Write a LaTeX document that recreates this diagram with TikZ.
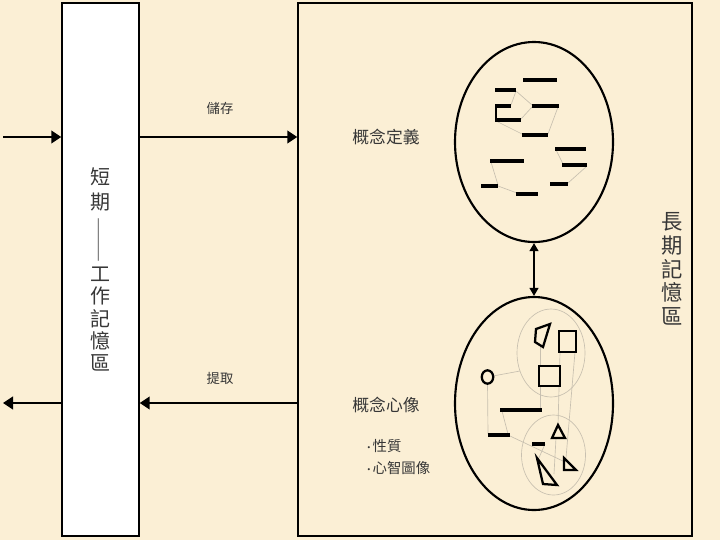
\documentclass[tikz,border=0pt]{standalone}
\usepackage{fontspec}
\usepackage{graphicx}
\newfontfamily\cjk{Noto Sans CJK TC}
\usetikzlibrary{shapes.geometric,arrows.meta}
\definecolor{bg}{RGB}{251,239,213}
\definecolor{txt}{RGB}{55,55,55}
\definecolor{thinc}{RGB}{200,192,176}
\definecolor{dashc}{RGB}{130,130,130}
\newcommand{\bul}{\makebox[5.5pt][c]{\scalebox{0.7}{•}}}
\begin{document}
\begin{tikzpicture}[x=0.75pt,y=-0.75pt,
  box/.style={draw=black, line width=1.1pt, inner sep=0pt},
  arr/.style={line width=1.6pt, -{Triangle[length=7.5pt,width=9.5pt]}},
  darr/.style={line width=1.5pt, {Triangle[length=6pt,width=6.5pt]}-{Triangle[length=6pt,width=6.5pt]}},
  oval/.style={ellipse, draw=black, line width=1.6pt, inner sep=0pt},
  bar/.style={line width=2.3pt},
  shp/.style={line width=1.7pt, line join=miter},
  link/.style={draw=thinc, line width=0.5pt},
  lbl/.style={font=\cjk\fontsize{10}{12}\selectfont, text=txt},
]
\fill[bg] (0,0) rectangle (720,540);
\useasboundingbox (0,0) rectangle (720,540);

% boxes
\node[box, fill=white, minimum width=57.75pt, minimum height=399.75pt,
      align=center, text=txt, font=\cjk\fontsize{15}{16.7}\selectfont]
  (stm) at (100.5,269.5)
  {短\\[2pt]期\\[3.5pt]\hspace{1pt}\textcolor{dashc}{\rotatebox{90}{\resizebox{33.75pt}{\height}{——}}}\\[-2pt]工\\作\\記\\憶\\區};
\node[box, minimum width=295.5pt, minimum height=399.75pt] (ltm) at (495,269.5) {};
\node[align=center, text=txt, font=\cjk\fontsize{16}{17.8}\selectfont]
  (ltmlbl) at (672,269) {長\\期\\記\\憶\\區};

% arrows
\coordinate (src) at (3,137);
\coordinate (dst) at (3,403);
\draw[arr] (src) -- (src -| stm.west);
\draw[arr] (stm.east |- src) -- (ltm.west |- src);
\draw[arr] (ltm.west |- dst) -- (stm.east |- dst);
\draw[arr] (stm.west |- dst) -- (dst);
\node[lbl] (store) at (220,108) {儲存};
\node[lbl] (fetch) at (220,378) {提取};

% ellipses
\node[oval, minimum width=118.5pt, minimum height=150pt] (up) at (534,142) {};
\node[oval, minimum width=118.5pt, minimum height=159.75pt] (low) at (534,403.5) {};
\draw[darr] (up.south) -- (low.north);

\node[font=\cjk\fontsize{12.6}{14}\selectfont, text=txt] (def) at (386,137) {概念定義};
\node[font=\cjk\fontsize{12.6}{14}\selectfont, text=txt] (img) at (386,405) {概念心像};
\node[font=\cjk\fontsize{10.8}{16}\selectfont, text=txt, anchor=west, align=left, inner sep=0pt]
  (items) at (365,457) {\bul 性質\\\bul 心智圖像};

% upper ellipse: links
\draw[link] (516,91) -- (511,105);
\draw[link] (516,91) -- (532,105);
\draw[link] (532,107) -- (521,119);
\draw[link] (496,121) -- (522,134);
\draw[link] (558,107) -- (548,134);
\draw[link] (556,150) -- (563,164);
\draw[link] (587,166) -- (568,183);
\draw[link] (491,162) -- (498,185);
\draw[link] (498,186) -- (517,193);
% upper ellipse: bars
\draw[bar] (523,80) -- (557,80);
\draw[bar] (495,90) -- (516,90);
\draw[bar] (495,106) -- (511,106);
\draw[line width=1.5pt] (495.7,106) -- (495.7,120);
\draw[bar] (532,106) -- (559,106);
\draw[bar] (495,120) -- (521,120);
\draw[bar] (522,135) -- (548,135);
\draw[bar] (555,149) -- (586,149);
\draw[bar] (490,161) -- (524,161);
\draw[bar] (562,165) -- (587,165);
\draw[bar] (481,186) -- (498,186);
\draw[bar] (550,184) -- (568,184);
\draw[bar] (516,194) -- (538,194);

% lower ellipse: groups and links
\draw[link] (551,353) ellipse [x radius=25.5pt, y radius=33pt];
\draw[link] (553.5,455) ellipse [x radius=24pt, y radius=30pt];
\draw[link] (493,376) -- (520,371);
\draw[link] (487.5,383) -- (488,434);
\draw[link] (502,411) -- (508,434);
\draw[link] (510,436) -- (565,462);
\draw[link] (540,347) -- (540,366);
\draw[link] (560,352) -- (558,425);
\draw[link] (575,352) -- (566,458);
\draw[link] (540,386) -- (540,409);
\draw[link] (545,444) -- (538,460);
\draw[link] (556,438) -- (554,474);
% lower ellipse: shapes
\draw[shp] (487.5,377) ellipse [x radius=4.3pt, y radius=5pt];
\draw[shp] (536,329) -- (550,324) -- (543,347) -- (535,342) -- cycle;
\draw[shp] (559,331) rectangle (576,352);
\draw[shp] (539,366) rectangle (560,386);
\draw[bar] (500,410) -- (542,410);
\draw[bar] (488,435) -- (510,435);
\draw[bar] (532,444) -- (545,444);
\draw[shp] (552,438) -- (558,425) -- (565,438) -- cycle;
\draw[shp] (537,458) -- (557,485) -- (543,484) -- cycle;
\draw[shp] (564,458) -- (576,470) -- (564,470) -- cycle;
\end{tikzpicture}
\end{document}
